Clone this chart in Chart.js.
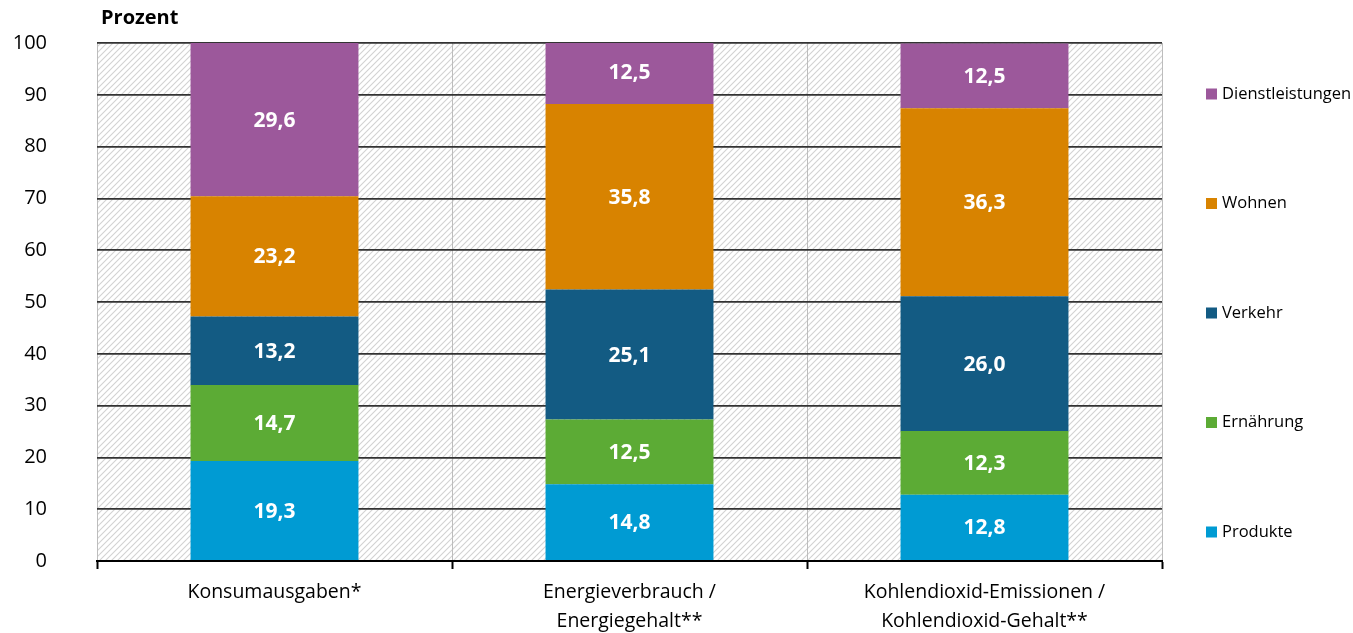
<!DOCTYPE html>
<html lang="de">
<head>
    <meta charset="UTF-8">
    <title>Konsum, Energie und CO2 nach Bedarfsfeldern</title>
    <script src="https://cdn.jsdelivr.net/npm/chart.js"></script>
    <style>
        body { margin: 0; background: #fff; }
        canvas { display: block; }
    </style>
</head>
<body>
    <canvas id="chart" width="1353" height="633"></canvas>

    <script>
        const categories = [
            'Konsumausgaben*',
            ['Energieverbrauch /', 'Energiegehalt**'],
            ['Kohlendioxid-Emissionen /', 'Kohlendioxid-Gehalt**']
        ];
        const produkte = [19.3, 14.8, 12.8];
        const ernaehrung = [14.7, 12.5, 12.3];
        const verkehr = [13.2, 25.1, 26.0];
        const wohnen = [23.2, 35.8, 36.3];
        const dienstleistungen = [29.6, 12.5, 12.5];
        const yTicks = [0, 10, 20, 30, 40, 50, 60, 70, 80, 90, 100];

        const FONT = '"Open Sans", "Noto Sans", sans-serif';

        // diagonal hatch for the plot background
        function hatchPattern(ctx) {
            const c = document.createElement('canvas');
            c.width = 6; c.height = 6;
            const p = c.getContext('2d');
            p.fillStyle = '#fff';
            p.fillRect(0, 0, 6, 6);
            p.strokeStyle = '#d2d2d2';
            p.lineWidth = 1.1;
            p.beginPath();
            p.moveTo(-1, 7); p.lineTo(7, -1);
            p.moveTo(-1, 1); p.lineTo(1, -1);
            p.moveTo(5, 7); p.lineTo(7, 5);
            p.stroke();
            return ctx.createPattern(c, 'repeat');
        }

        const background = {
            id: 'background',
            beforeDraw(chart) {
                const { ctx, chartArea: a } = chart;
                ctx.save();
                ctx.fillStyle = hatchPattern(ctx);
                ctx.fillRect(a.left, a.top, a.right - a.left, a.bottom - a.top);
                ctx.restore();
            }
        };

        const extras = {
            id: 'extras',
            afterDatasetsDraw(chart) {
                const ctx = chart.ctx;
                ctx.save();
                // values inside bars
                ctx.fillStyle = '#fff';
                ctx.font = 'bold 21px ' + FONT;
                ctx.textAlign = 'center';
                ctx.textBaseline = 'middle';
                chart.data.datasets.forEach((ds, i) => {
                    chart.getDatasetMeta(i).data.forEach((bar, j) => {
                        const txt = ds.data[j].toFixed(1).replace('.', ',');
                        ctx.fillText(txt, bar.x, (bar.y + bar.base) / 2 + 1);
                    });
                });
                ctx.restore();
            },
            afterDraw(chart) {
                const { ctx, chartArea: a } = chart;
                ctx.save();
                ctx.fillStyle = '#000';
                ctx.font = 'bold 20px ' + FONT;
                ctx.textBaseline = 'middle';
                ctx.textAlign = 'left';
                ctx.fillText('Prozent', 101, 18);

                // legend on the right, top item = last dataset
                ctx.font = '16.5px ' + FONT;
                const items = chart.data.datasets.slice().reverse();
                items.forEach((ds, k) => {
                    const y = a.top + 51 + k * 109.5;
                    ctx.fillStyle = ds.backgroundColor;
                    ctx.fillRect(a.right + 44, y - 5.5, 11, 11);
                    ctx.fillStyle = '#000';
                    ctx.fillText(ds.label, a.right + 60, y);
                });
                ctx.restore();
            }
        };

        const ds = (label, data, color) => ({
            label, data, backgroundColor: color,
            categoryPercentage: 1, barPercentage: 0.473
        });

        new Chart(document.getElementById('chart'), {
            type: 'bar',
            data: {
                labels: categories,
                datasets: [
                    ds('Produkte', produkte, '#009bd3'),
                    ds('Ernährung', ernaehrung, '#5cab35'),
                    ds('Verkehr', verkehr, '#135b83'),
                    ds('Wohnen', wohnen, '#d88300'),
                    ds('Dienstleistungen', dienstleistungen, '#9c589b')
                ]
            },
            options: {
                responsive: false,
                animation: false,
                layout: { padding: { top: 43, right: 191, left: 0, bottom: 0 } },
                plugins: { legend: { display: false }, tooltip: { enabled: false } },
                scales: {
                    x: {
                        stacked: true,
                        grid: { color: '#bdbdbd', lineWidth: 1, tickLength: 8, tickColor: '#000', tickWidth: 2 },
                        border: { color: '#000', width: 2 },
                        ticks: { color: '#000', padding: 9, font: { family: FONT, size: 19.5, lineHeight: 1.5 } },
                        afterFit(s) { s.height = 72; }
                    },
                    y: {
                        stacked: true,
                        min: 0, max: 100,
                        afterBuildTicks(s) { s.ticks = yTicks.map(v => ({ value: v })); },
                        grid: { color: '#333', lineWidth: 1.8, drawTicks: false },
                        border: { display: false },
                        ticks: { color: '#000', padding: 50, font: { family: FONT, size: 20 } },
                        afterFit(s) {
                            s.width = 97;
                            // tick padding is only meant horizontally here
                            s.paddingTop = 12;
                            s.paddingBottom = 12;
                        }
                    }
                }
            },
            plugins: [background, extras]
        });
    </script>
</body>
</html>
